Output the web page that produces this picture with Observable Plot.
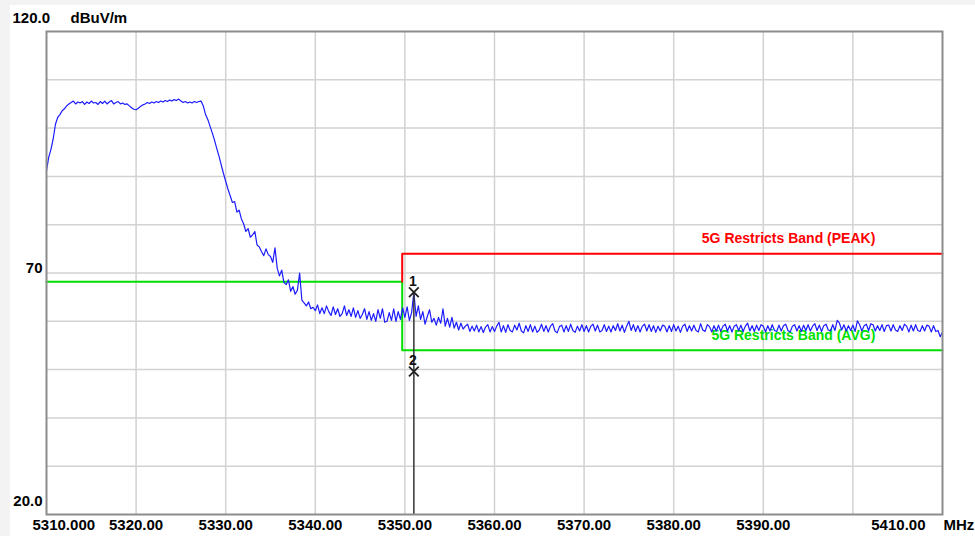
<!DOCTYPE html>
<html>
<head>
<meta charset="utf-8">
<script src="https://cdn.jsdelivr.net/npm/d3@7"></script>
<script src="https://cdn.jsdelivr.net/npm/@observablehq/plot@0.6"></script>
<style>
  html, body { margin: 0; padding: 0; background: #f3f3f3; }
  #wrap { margin: 5px 0 0 10px; width: 965px; height: 531px; background: #ffffff; }
  svg { display: block; background: #ffffff; }
</style>
</head>
<body>
<div id="wrap"></div>
<script>
// ---- data ----
const startMHz = 5310;          // sweep start
const stepMHz = 0.25;           // sweep step
// measured level, dBuV/m, four values per MHz (5310 .. 5410 MHz)
const levels = [
  91.2, 94.0, 95.6, 97.8,      // 5310
  100.8, 102.2, 102.8, 103.6,  // 5311
  104.0, 104.6, 105.0, 105.3,  // 5312
  105.6, 105.0, 105.4, 105.2,  // 5313
  105.5, 104.9, 105.4, 105.1,  // 5314
  105.6, 105.2, 105.3, 104.9,  // 5315
  105.5, 105.1, 105.6, 105.0,  // 5316
  105.4, 105.7, 105.0, 105.3,  // 5317
  105.5, 105.0, 105.2, 104.9,  // 5318
  105.0, 104.6, 104.2, 103.9,  // 5319
  103.8, 104.1, 104.5, 104.8,  // 5320
  105.0, 105.3, 105.1, 105.4,  // 5321
  105.2, 105.5, 105.3, 105.6,  // 5322
  105.4, 105.7, 105.5, 105.8,  // 5323
  105.6, 105.9, 105.7, 106.0,  // 5324
  105.6, 105.3, 105.5, 105.2,  // 5325
  105.4, 105.2, 105.5, 105.3,  // 5326
  105.5, 105.6, 104.6, 102.8,  // 5327
  101.8, 100.4, 99.0, 97.5,    // 5328
  95.8, 94.2, 92.4, 90.6,      // 5329
  89.0, 87.4, 86.0, 84.6,      // 5330
  84.8, 82.6, 83.0, 81.2,      // 5331
  80.2, 78.6, 79.2, 77.4,      // 5332
  77.9, 78.6, 75.8, 75.4,      // 5333
  74.4, 73.6, 75.0, 73.8,      // 5334
  73.4, 72.2, 75.2, 71.0,      // 5335
  69.4, 70.6, 68.0, 67.6,      // 5336
  68.6, 66.2, 67.2, 65.6,      // 5337
  66.4, 70.0, 64.4, 63.8,      // 5338
  63.2, 64.0, 62.6, 62.9,      // 5339
  62.2, 63.4, 61.6, 62.8,      // 5340
  61.6, 63.2, 62.0, 61.2,      // 5341
  63.0, 61.4, 62.6, 61.0,      // 5342
  61.6, 63.2, 61.2, 62.4,      // 5343
  61.0, 62.8, 60.8, 62.2,      // 5344
  60.6, 61.4, 62.6, 60.4,      // 5345
  62.0, 60.2, 61.6, 60.0,      // 5346
  62.4, 60.6, 62.6, 59.8,      // 5347
  60.0, 61.8, 60.2, 62.6,      // 5348
  60.0, 62.0, 60.4, 62.8,      // 5349
  60.8, 63.0, 60.2, 61.8,      // 5350
  66.0, 61.0, 63.2, 60.4,      // 5351
  62.0, 59.4, 61.0, 62.4,      // 5352
  59.8, 60.6, 59.2, 60.8,      // 5353
  59.6, 62.6, 59.0, 60.6,      // 5354
  58.8, 60.8, 58.6, 59.8,      // 5355
  58.2, 59.6, 58.4, 59.0,      // 5356
  59.4, 57.9, 59.0, 58.0,      // 5357
  59.2, 57.8, 58.9, 57.7,      // 5358
  58.8, 59.3, 57.8, 58.9,      // 5359
  57.9, 59.0, 59.8, 57.8,      // 5360
  59.1, 57.7, 59.3, 58.1,      // 5361
  57.8, 59.2, 58.2, 59.6,      // 5362
  58.0, 57.6, 59.1, 57.9,      // 5363
  59.3, 57.8, 59.0, 57.7,      // 5364
  58.2, 59.4, 57.9, 59.1,      // 5365
  57.8, 59.0, 59.5, 58.0,      // 5366
  57.6, 58.9, 59.2, 57.8,      // 5367
  59.1, 57.9, 59.4, 58.1,      // 5368
  57.7, 59.0, 58.0, 59.3,      // 5369
  57.9, 59.1, 57.8, 59.0,      // 5370
  59.4, 58.0, 59.2, 57.8,      // 5371
  58.1, 59.3, 57.9, 59.0,      // 5372
  57.8, 59.1, 58.1, 59.5,      // 5373
  58.0, 59.2, 57.7, 59.0,      // 5374
  60.0, 58.1, 59.3, 57.9,      // 5375
  59.1, 57.8, 59.0, 59.4,      // 5376
  58.0, 59.3, 57.9, 59.1,      // 5377
  57.7, 59.0, 58.0, 59.2,      // 5378
  59.0, 57.8, 59.1, 57.9,      // 5379
  59.3, 58.0, 59.0, 57.7,      // 5380
  59.0, 59.4, 57.9, 59.1,      // 5381
  58.0, 59.2, 58.1, 57.8,      // 5382
  59.5, 58.2, 57.9, 59.3,      // 5383
  58.9, 57.8, 59.1, 58.0,      // 5384
  59.2, 57.9, 59.0, 59.4,      // 5385
  58.0, 59.1, 57.8, 59.0,      // 5386
  59.3, 58.1, 59.2, 57.9,      // 5387
  59.0, 59.6, 58.0, 59.1,      // 5388
  57.9, 59.2, 58.1, 59.3,      // 5389
  59.0, 57.8, 59.1, 58.0,      // 5390
  59.3, 58.1, 57.9, 59.2,      // 5391
  58.0, 59.1, 59.4, 58.1,      // 5392
  57.8, 59.0, 59.3, 58.0,      // 5393
  59.1, 57.9, 59.2, 58.1,      // 5394
  59.3, 58.0, 59.0, 59.5,      // 5395
  58.1, 59.2, 57.9, 59.1,      // 5396
  59.4, 58.2, 58.0, 59.3,      // 5397
  58.1, 60.2, 59.6, 58.2,      // 5398
  59.3, 58.0, 59.1, 58.1,      // 5399
  59.2, 57.9, 60.1, 59.3,      // 5400
  58.0, 59.1, 59.4, 58.1,      // 5401
  59.5, 59.3, 58.0, 59.1,      // 5402
  58.1, 59.3, 57.9, 59.1,      // 5403
  59.2, 58.0, 59.3, 58.2,      // 5404
  57.9, 59.1, 58.1, 59.4,      // 5405
  59.0, 57.8, 59.2, 58.0,      // 5406
  59.3, 58.1, 57.9, 59.1,      // 5407
  58.0, 59.2, 59.0, 57.8,      // 5408
  59.1, 57.9, 58.1, 56.8,      // 5409
  57.8                         // 5410
];

// limit lines (frequency MHz, level dBuV/m)
const peakLimitF = [5349.7, 5349.7, 5410];
const peakLimitV = [68.2, 74, 74];
const avgLimitF = [5310, 5349.7, 5349.7, 5410];
const avgLimitV = [68.2, 68.2, 54, 54];

// markers
const markerIds = ["1", "2"];
const markerF = [5351.0, 5351.0];
const markerV = [66.0, 49.6];

// limit labels
const limitLabels = ["5G Restricts Band (PEAK)", "5G Restricts Band (AVG)"];
const limitLabelF = [5402.5, 5402.5];
const limitLabelV = [74, 54];
const limitColors = ["#ff0000", "#00e000"];

// axes
const xGrid = [5320, 5330, 5340, 5350, 5360, 5370, 5380, 5390, 5400];
const yGrid = [30, 40, 50, 60, 70, 80, 90, 100, 110];
const xTickValues = [5310, 5320, 5330, 5340, 5350, 5360, 5370, 5380, 5390, 5410];
const xTickLabels = ["5310.000", "5320.00", "5330.00", "5340.00", "5350.00", "5360.00", "5370.00", "5380.00", "5390.00", "5410.00"];
const yTickValues = [120, 70, 20];
const yTickLabels = ["120.0", "70", "20.0"];
const yUnit = "dBuV/m";
const xUnit = "MHz";

// ---- tables ----
const trace = levels.map((v, i) => ({f: startMHz + i * stepMHz, v}));
const peakLimit = peakLimitF.map((f, i) => ({f, v: peakLimitV[i]}));
const avgLimit = avgLimitF.map((f, i) => ({f, v: avgLimitV[i]}));
const markers = markerIds.map((id, i) => ({id, f: markerF[i], v: markerV[i]}));
const limitText = limitLabels.map((t, i) => ({t, f: limitLabelF[i], v: limitLabelV[i], c: limitColors[i]}));
const xTicks = xTickValues.map((x, i) => ({x, t: xTickLabels[i], i}));
const yTicks = yTickValues.map((y, i) => ({y, t: yTickLabels[i], i}));

const font = "'Liberation Sans', Arial, sans-serif";
const labelStyle = {fontFamily: font, fontSize: 15, fontWeight: "bold", fill: "#000"};

const chart = Plot.plot({
  width: 965,
  height: 531,
  marginLeft: 36,
  marginRight: 33,
  marginTop: 26,
  marginBottom: 22,
  style: {fontFamily: font, background: "#ffffff", overflow: "visible"},
  x: {domain: [5310, 5410], axis: null},
  y: {domain: [20, 120], axis: null},
  marks: [
    Plot.gridX(xGrid, {stroke: "#d2d2d2", strokeOpacity: 1, strokeWidth: 1.5}),
    Plot.gridY(yGrid, {stroke: "#d2d2d2", strokeOpacity: 1, strokeWidth: 1.5}),
    Plot.line(avgLimit, {x: "f", y: "v", stroke: "#00e000", strokeWidth: 2}),
    Plot.line(peakLimit, {x: "f", y: "v", stroke: "#ff0000", strokeWidth: 2}),
    Plot.text(limitText, {x: "f", y: "v", text: "t", fill: "c", textAnchor: "end", dy: -15,
      fontFamily: font, fontSize: 14, fontWeight: "bold"}),
    Plot.line(trace, {x: "f", y: "v", stroke: "#1c1cff", strokeWidth: 1.2}),
    Plot.ruleX(markers.filter(d => d.id === "1"), {x: "f", y1: "v", y2: 20, stroke: "#333", strokeWidth: 1.5}),
    Plot.dot(markers, {x: "f", y: "v", symbol: "times", r: 4.5, stroke: "#222", strokeWidth: 1.8}),
    Plot.text(markers, {x: "f", y: "v", text: "id", dy: -11, dx: -1, fontFamily: font, fontSize: 14, fontWeight: "bold", fill: "#111"}),
    Plot.frame({stroke: "#8c8c8c", strokeWidth: 2}),
    // x tick labels
    Plot.text(xTicks.filter(d => d.i > 0 && d.i < xTicks.length - 1), {x: "x", frameAnchor: "bottom", text: "t", dy: 11, lineAnchor: "middle", ...labelStyle}),
    Plot.text(xTicks.filter(d => d.i === 0), {x: "x", frameAnchor: "bottom", text: "t", dy: 11, dx: -14, textAnchor: "start", lineAnchor: "middle", ...labelStyle}),
    Plot.text(xTicks.filter(d => d.i === xTicks.length - 1), {x: "x", frameAnchor: "bottom", text: "t", dy: 11, dx: -17, textAnchor: "end", lineAnchor: "middle", ...labelStyle}),
    Plot.text([xUnit], {frameAnchor: "bottom-right", text: d => d, dy: 11, dx: 1, textAnchor: "start", lineAnchor: "middle", ...labelStyle}),
    // y tick labels
    Plot.text(yTicks.filter(d => d.i === 0), {y: "y", frameAnchor: "left", text: "t", dx: -34, dy: -13, textAnchor: "start", lineAnchor: "middle", ...labelStyle}),
    Plot.text(yTicks.filter(d => d.i === 1), {y: "y", frameAnchor: "left", text: "t", dx: -4, dy: -5, textAnchor: "end", lineAnchor: "middle", ...labelStyle}),
    Plot.text(yTicks.filter(d => d.i === 2), {y: "y", frameAnchor: "left", text: "t", dx: -4, dy: -13, textAnchor: "end", lineAnchor: "middle", ...labelStyle}),
    Plot.text([yUnit], {frameAnchor: "top-left", text: d => d, dx: 24, dy: -13, textAnchor: "start", lineAnchor: "middle", ...labelStyle})
  ]
});
document.getElementById("wrap").appendChild(chart);
</script>
</body>
</html>
